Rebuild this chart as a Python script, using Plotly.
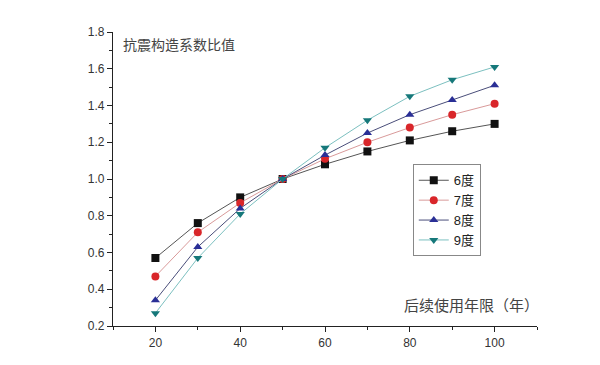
import plotly.graph_objects as go

years = [20, 30, 40, 50, 60, 70, 80, 90, 100]
names = ["6度", "7度", "8度", "9度"]
v6 = [0.57, 0.76, 0.90, 1.00, 1.08, 1.15, 1.21, 1.26, 1.30]
v7 = [0.47, 0.71, 0.87, 1.00, 1.11, 1.20, 1.28, 1.35, 1.41]
v8 = [0.34, 0.63, 0.84, 1.00, 1.13, 1.25, 1.35, 1.43, 1.51]
v9 = [0.27, 0.57, 0.81, 1.00, 1.17, 1.32, 1.45, 1.54, 1.61]
series = [v6, v7, v8, v9]

symbols = ["square", "circle", "triangle-up", "triangle-down"]
marker_colors = ["#111111", "#d9262a", "#2a2f96", "#16787a"]
line_colors = ["#555555", "#d99a9a", "#4a4e7a", "#7cc0c0"]

fig = go.Figure()
for n, v, s, mc, lc in zip(names, series, symbols, marker_colors, line_colors):
    fig.add_trace(go.Scatter(
        x=years, y=v, name=n, mode="lines+markers",
        line=dict(color=lc, width=1),
        marker=dict(symbol=s, color=mc, size=8),
    ))

axis_common = dict(
    showgrid=False, zeroline=False, showline=True, linecolor="#222222", linewidth=1.2,
    ticks="outside", ticklen=5, tickcolor="#222222", tickwidth=1,
    tickfont=dict(family="Liberation Sans, Arial", size=12, color="#333333"),
    minor=dict(ticks="outside", ticklen=3, tickcolor="#222222"),
    mirror=False,
)
fig.update_xaxes(range=[10, 110], tickvals=[20, 40, 60, 80, 100], minor_dtick=10, **axis_common)
fig.update_yaxes(range=[0.2, 1.8], tickvals=[0.2, 0.4, 0.6, 0.8, 1.0, 1.2, 1.4, 1.6, 1.8],
                 ticktext=["0.2", "0.4", "0.6", "0.8", "1.0", "1.2", "1.4", "1.6", "1.8"],
                 minor_dtick=0.1, **axis_common)

fig.add_annotation(text="抗震构造系数比值", xref="paper", yref="paper", x=0.018, y=1.0,
                   xanchor="left", yanchor="top", showarrow=False,
                   font=dict(family="Noto Sans CJK SC", size=14, color="#444444"))
fig.add_annotation(text="后续使用年限（年）", xref="paper", yref="paper", x=1.01, y=0.03,
                   xanchor="right", yanchor="bottom", showarrow=False,
                   font=dict(family="Noto Sans CJK SC", size=15, color="#444444"))

fig.update_layout(
    width=600, height=365,
    margin=dict(l=105, r=71, t=24, b=47),
    paper_bgcolor="white", plot_bgcolor="white",
    showlegend=True,
    legend=dict(x=0.707, y=0.55, xanchor="left", yanchor="top",
                bordercolor="#888888", borderwidth=1, bgcolor="white",
                font=dict(family="Liberation Sans, Noto Sans CJK SC", size=13, color="#222222"),
                tracegroupgap=0, itemwidth=30),
)

fig.write_html("out.html")
